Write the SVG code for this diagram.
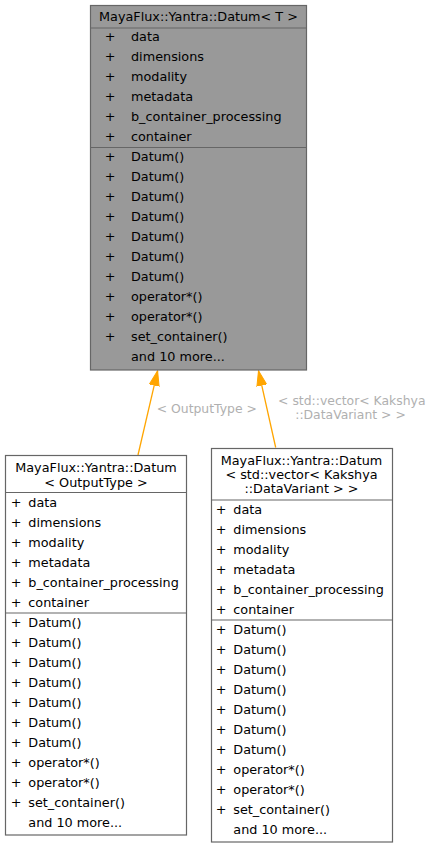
<svg xmlns="http://www.w3.org/2000/svg" width="436" height="848" viewBox="0 0 436 848">
<defs>
<style>
text{font-family:"DejaVu Sans","Liberation Sans",sans-serif;font-size:12.8px;fill:#000}
.box{stroke:#666;stroke-width:1.2}
.gray{fill:#999}
.white{fill:#fff}
.sep{stroke:#666;stroke-width:1.2}
.c{text-anchor:middle}
.lbl{fill:#b0b0b0;text-anchor:middle;font-size:12.4px}
.edge{stroke:#ffa500;stroke-width:1.3;fill:none}
</style>
<marker id="arr" markerUnits="userSpaceOnUse" markerWidth="16" markerHeight="12" refX="15" refY="5" orient="auto" viewBox="0 0 16 10">
<path d="M0,0 L15,5 L0,10 z" fill="#ffa500" stroke="#ffa500" stroke-width="1"/>
</marker>
</defs>
<rect width="436" height="848" fill="#fff"/>
<g id="connectors">
<path class="edge" d="M138,455 L157.6,370.8" marker-end="url(#arr)"/>
<path class="edge" d="M275.7,447.5 L258.5,370.8" marker-end="url(#arr)"/>
<text class="lbl" x="206.8" y="412.7">&lt; OutputType &gt;</text>
<text class="lbl" x="351.8" y="405">&lt; std::vector&lt; Kakshya</text>
<text class="lbl" x="350.5" y="418.6">::DataVariant &gt; &gt;</text>
</g>
<g id="node_datum_T">
<rect class="box gray" x="90.5" y="5.5" width="216" height="364.5"/>
<line class="sep" x1="90.5" y1="28" x2="306.5" y2="28"/>
<line class="sep" x1="90.5" y1="147.5" x2="306.5" y2="147.5"/>
<text class="c" x="198.5" y="21.3">MayaFlux::Yantra::Datum&lt; T &gt;</text>
<text class="c" x="110" y="41.3">+</text>
<text class="c" x="110" y="61.3">+</text>
<text class="c" x="110" y="81.3">+</text>
<text class="c" x="110" y="101.3">+</text>
<text class="c" x="110" y="121.3">+</text>
<text class="c" x="110" y="141.3">+</text>
<text class="c" x="110" y="161.3">+</text>
<text class="c" x="110" y="181.3">+</text>
<text class="c" x="110" y="201.3">+</text>
<text class="c" x="110" y="221.3">+</text>
<text class="c" x="110" y="241.3">+</text>
<text class="c" x="110" y="261.3">+</text>
<text class="c" x="110" y="281.3">+</text>
<text class="c" x="110" y="301.3">+</text>
<text class="c" x="110" y="321.3">+</text>
<text class="c" x="110" y="341.3">+</text>
<text x="131" y="41.3">data</text>
<text x="131" y="61.3">dimensions</text>
<text x="131" y="81.3">modality</text>
<text x="131" y="101.3">metadata</text>
<text x="131" y="121.3">b_container_processing</text>
<text x="131" y="141.3">container</text>
<text x="131" y="161.3">Datum()</text>
<text x="131" y="181.3">Datum()</text>
<text x="131" y="201.3">Datum()</text>
<text x="131" y="221.3">Datum()</text>
<text x="131" y="241.3">Datum()</text>
<text x="131" y="261.3">Datum()</text>
<text x="131" y="281.3">Datum()</text>
<text x="131" y="301.3">operator*()</text>
<text x="131" y="321.3">operator*()</text>
<text x="131" y="341.3">set_container()</text>
<text x="131" y="361.3">and 10 more...</text>
</g>
<g id="node_datum_output">
<rect class="box white" x="5.5" y="455.5" width="181" height="379.5"/>
<line class="sep" x1="5.5" y1="492.5" x2="186.5" y2="492.5"/>
<line class="sep" x1="5.5" y1="613" x2="186.5" y2="613"/>
<text class="c" x="96" y="471.5">MayaFlux::Yantra::Datum</text>
<text class="c" x="96" y="486.5">&lt; OutputType &gt;</text>
<text class="c" x="16" y="507">+</text>
<text class="c" x="16" y="527">+</text>
<text class="c" x="16" y="547">+</text>
<text class="c" x="16" y="567">+</text>
<text class="c" x="16" y="587">+</text>
<text class="c" x="16" y="607">+</text>
<text class="c" x="16" y="627">+</text>
<text class="c" x="16" y="647">+</text>
<text class="c" x="16" y="667">+</text>
<text class="c" x="16" y="687">+</text>
<text class="c" x="16" y="707">+</text>
<text class="c" x="16" y="727">+</text>
<text class="c" x="16" y="747">+</text>
<text class="c" x="16" y="767">+</text>
<text class="c" x="16" y="787">+</text>
<text class="c" x="16" y="807">+</text>
<text x="28.3" y="507">data</text>
<text x="28.3" y="527">dimensions</text>
<text x="28.3" y="547">modality</text>
<text x="28.3" y="567">metadata</text>
<text x="28.3" y="587">b_container_processing</text>
<text x="28.3" y="607">container</text>
<text x="28.3" y="627">Datum()</text>
<text x="28.3" y="647">Datum()</text>
<text x="28.3" y="667">Datum()</text>
<text x="28.3" y="687">Datum()</text>
<text x="28.3" y="707">Datum()</text>
<text x="28.3" y="727">Datum()</text>
<text x="28.3" y="747">Datum()</text>
<text x="28.3" y="767">operator*()</text>
<text x="28.3" y="787">operator*()</text>
<text x="28.3" y="807">set_container()</text>
<text x="28.3" y="827">and 10 more...</text>
</g>
<g id="node_datum_vector">
<rect class="box white" x="211.5" y="448.5" width="181" height="393.5"/>
<line class="sep" x1="211.5" y1="500" x2="392.5" y2="500"/>
<line class="sep" x1="211.5" y1="620" x2="392.5" y2="620"/>
<text class="c" x="301.5" y="464.6">MayaFlux::Yantra::Datum</text>
<text class="c" x="301.5" y="478.7">&lt; std::vector&lt; Kakshya</text>
<text class="c" x="301.5" y="492.9">::DataVariant &gt; &gt;</text>
<text class="c" x="221" y="513.6">+</text>
<text class="c" x="221" y="533.6">+</text>
<text class="c" x="221" y="553.6">+</text>
<text class="c" x="221" y="573.6">+</text>
<text class="c" x="221" y="593.6">+</text>
<text class="c" x="221" y="613.6">+</text>
<text class="c" x="221" y="634">+</text>
<text class="c" x="221" y="654">+</text>
<text class="c" x="221" y="674">+</text>
<text class="c" x="221" y="694">+</text>
<text class="c" x="221" y="714">+</text>
<text class="c" x="221" y="734">+</text>
<text class="c" x="221" y="754">+</text>
<text class="c" x="221" y="774">+</text>
<text class="c" x="221" y="794">+</text>
<text class="c" x="221" y="814">+</text>
<text x="233.3" y="513.6">data</text>
<text x="233.3" y="533.6">dimensions</text>
<text x="233.3" y="553.6">modality</text>
<text x="233.3" y="573.6">metadata</text>
<text x="233.3" y="593.6">b_container_processing</text>
<text x="233.3" y="613.6">container</text>
<text x="233.3" y="634">Datum()</text>
<text x="233.3" y="654">Datum()</text>
<text x="233.3" y="674">Datum()</text>
<text x="233.3" y="694">Datum()</text>
<text x="233.3" y="714">Datum()</text>
<text x="233.3" y="734">Datum()</text>
<text x="233.3" y="754">Datum()</text>
<text x="233.3" y="774">operator*()</text>
<text x="233.3" y="794">operator*()</text>
<text x="233.3" y="814">set_container()</text>
<text x="233.3" y="834">and 10 more...</text>
</g>
</svg>
